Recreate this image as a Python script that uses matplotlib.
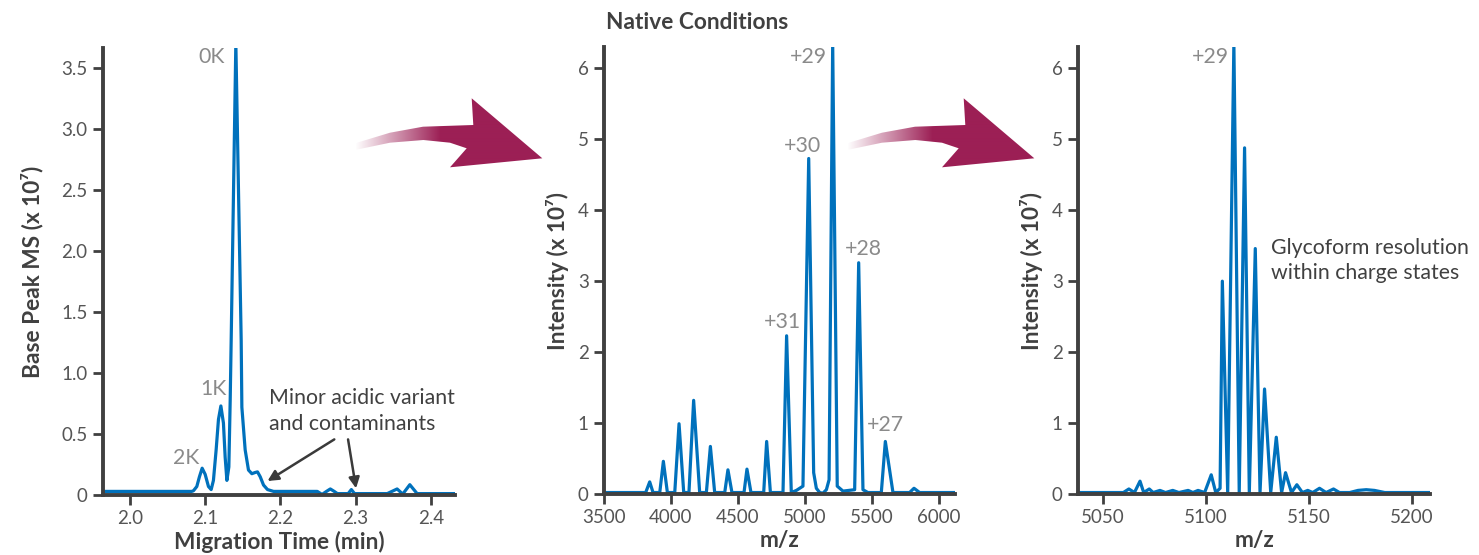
import numpy as np
import matplotlib
matplotlib.use('Agg')
import matplotlib.pyplot as plt
from matplotlib.patches import Polygon

plt.rcParams['font.family'] = ['Lato', 'DejaVu Sans']

# electropherogram (base peak, x 10^7)
mig_time = [1.964, 2.082, 2.0843, 2.0888, 2.0923, 2.0959, 2.0999, 2.1043, 2.1079,
            2.1109, 2.1145, 2.1176, 2.1208, 2.1242, 2.1265, 2.1288, 2.1314, 2.1332,
            2.1345, 2.1407, 2.1478, 2.1487, 2.1531, 2.1575, 2.162, 2.1664, 2.1695,
            2.1731, 2.1775, 2.1828, 2.1908, 2.249, 2.2553, 2.2612, 2.2663, 2.2715,
            2.2757, 2.29, 2.2943, 2.2985, 2.342, 2.3551, 2.3626, 2.372, 2.3817, 2.432]
base_peak = [0.03, 0.03, 0.035, 0.07, 0.15, 0.22, 0.17, 0.07, 0.045,
             0.12, 0.37, 0.62, 0.73, 0.59, 0.31, 0.12, 0.23, 0.78,
             1.27, 3.7, 1.27, 0.72, 0.37, 0.205, 0.175, 0.185, 0.19,
             0.15, 0.082, 0.045, 0.03, 0.03, 0.005, 0.03, 0.05, 0.03,
             0.012, 0.012, 0.045, 0.012, 0.012, 0.05, 0.008, 0.085, 0.012, 0.012]

# native MS spectrum
mz_full = [3500, 3811, 3841, 3866, 3916, 3943, 3973, 4028, 4060, 4095, 4134, 4169,
           4214, 4264, 4294, 4326, 4401, 4425, 4455, 4545, 4567, 4597, 4692, 4714,
           4742, 4836, 4863, 4898, 4936, 4985, 5028, 5065, 5085, 5110, 5134, 5160,
           5180, 5207, 5241, 5284, 5371, 5401, 5433, 5470, 5570, 5600, 5657, 5781,
           5814, 5856, 6120]
int_full = [0.02, 0.02, 0.17, 0.02, 0.02, 0.46, 0.02, 0.02, 0.99, 0.02, 0.02, 1.32,
            0.02, 0.02, 0.67, 0.02, 0.02, 0.34, 0.02, 0.02, 0.35, 0.02, 0.02, 0.74,
            0.02, 0.02, 2.23, 0.02, 0.05, 0.11, 4.73, 0.3, 0.08, 0.02, 0.01, 0.06,
            0.2, 6.35, 0.11, 0.04, 0.06, 3.26, 0.06, 0.02, 0.02, 0.74, 0.02, 0.02,
            0.08, 0.02, 0.02]

# zoom on the +29 charge state
mz_zoom = [5038, 5060.0, 5062.7, 5065.4, 5068.1, 5069.9, 5072.6, 5074.5, 5077.8,
           5080.5, 5084.0, 5087.0, 5091.5, 5093.8, 5096.3, 5099.5, 5102.7, 5104.9,
           5107.0, 5108.1, 5110.7, 5113.7, 5116.3, 5118.9, 5121.2, 5124.1, 5126.4,
           5128.6, 5131.6, 5134.3, 5136.9, 5138.8, 5141.7, 5144.3, 5147.0, 5149.6,
           5152.0, 5155.3, 5158.5, 5162.1, 5165.0, 5170.0, 5174.0, 5178.0, 5182.0,
           5187.0, 5209]
int_zoom = [0.02, 0.02, 0.07, 0.02, 0.18, 0.02, 0.07, 0.02, 0.05,
            0.02, 0.05, 0.02, 0.05, 0.02, 0.05, 0.02, 0.27, 0.02,
            0.08, 3.0, 0.02, 6.35, 0.02, 4.88, 0.02, 3.46, 0.02,
            1.48, 0.02, 0.80, 0.02, 0.30, 0.02, 0.13, 0.02, 0.05,
            0.02, 0.08, 0.02, 0.07, 0.02, 0.02, 0.05, 0.06, 0.05,
            0.02, 0.02]

peak_names = ['0K', '1K', '2K']
peak_label_pos = [(2.109, 3.59), (2.1105, 0.87), (2.0752, 0.30)]
charge_names = ['+29', '+30', '+31', '+28', '+27']
charge_label_pos = [(5028, 6.155), (4979, 4.91), (4832, 2.43), (5437, 3.46), (5601, 0.975)]

blue = '#0071bc'
dark = '#404040'
grey_lbl = '#8a8a8a'
maroon = '#9c1f55'

fig = plt.figure(figsize=(14.79, 5.55), dpi=100)

ax1 = fig.add_axes([0.0696, 0.108, 0.238, 0.805])
ax2 = fig.add_axes([0.4084, 0.110, 0.2373, 0.805])
ax3 = fig.add_axes([0.7289, 0.110, 0.238, 0.805])


def style(ax):
    for s in ['top', 'right']:
        ax.spines[s].set_visible(False)
    for s in ['left', 'bottom']:
        ax.spines[s].set_color(dark)
        ax.spines[s].set_linewidth(2.8)
    ax.tick_params(direction='out', length=7, width=2, color=dark,
                   labelsize=13.5, labelcolor='#555555', pad=4)


lab_kw = dict(fontsize=16.3, fontweight='bold', color=dark)
ann_kw = dict(fontsize=15.3, color=grey_lbl, ha='center', va='center')
note_kw = dict(fontsize=15.3, color=dark, ha='left', va='center', linespacing=1.35)
line_kw = dict(color=blue, lw=2.3, solid_joinstyle='round')

ax1.plot(mig_time, base_peak, **line_kw)
ax1.set_xlim(1.964, 2.432)
ax1.set_ylim(0, 3.66)
ax1.set_xticks([2.0, 2.1, 2.2, 2.3, 2.4])
ax1.set_yticks([0, 0.5, 1.0, 1.5, 2.0, 2.5, 3.0, 3.5])
ax1.set_yticklabels(['0', '0.5', '1.0', '1.5', '2.0', '2.5', '3.0', '3.5'])
style(ax1)
ax1.set_xlabel('Migration Time (min)', **lab_kw)
ax1.set_ylabel('Base Peak MS (x 10⁷)', **lab_kw)
ax1.xaxis.set_label_coords(0.5, -0.08)
ax1.yaxis.set_label_coords(-0.17, 0.5)
for name, (x, y) in zip(peak_names, peak_label_pos):
    ax1.text(x, y, name, **ann_kw)
ax1.text(2.1842, 0.69, 'Minor acidic variant\nand contaminants', **note_kw)
arr = dict(arrowstyle='-|>', color='#3a3a3a', lw=1.8, mutation_scale=16,
           shrinkA=0, shrinkB=0)
ax1.annotate('', xy=(2.1828, 0.115), xytext=(2.2716, 0.456), arrowprops=arr)
ax1.annotate('', xy=(2.3005, 0.055), xytext=(2.2899, 0.456), arrowprops=arr)

ax2.plot(mz_full, int_full, **line_kw)
ax2.set_xlim(3500, 6120)
ax2.set_ylim(0, 6.3)
ax2.set_xticks([3500, 4000, 4500, 5000, 5500, 6000])
ax2.set_yticks(range(7))
style(ax2)
ax2.set_xlabel('m/z', **lab_kw)
ax2.set_ylabel('Intensity (x 10⁷)', **lab_kw)
ax2.xaxis.set_label_coords(0.5, -0.08)
ax2.yaxis.set_label_coords(-0.1, 0.5)
for name, (x, y) in zip(charge_names, charge_label_pos):
    ax2.text(x, y, name, **ann_kw)

ax3.plot(mz_zoom, int_zoom, **line_kw)
ax3.set_xlim(5038, 5209)
ax3.set_ylim(0, 6.3)
ax3.set_xticks([5050, 5100, 5150, 5200])
ax3.set_yticks(range(7))
style(ax3)
ax3.set_xlabel('m/z', **lab_kw)
ax3.set_ylabel('Intensity (x 10⁷)', **lab_kw)
ax3.xaxis.set_label_coords(0.5, -0.08)
ax3.yaxis.set_label_coords(-0.1, 0.5)
ax3.text(5102.2, 6.155, '+29', **ann_kw)
ax3.text(5131.5, 3.29, 'Glycoform resolution\nwithin charge states', **note_kw)

fig.text(0.4713, 0.96, 'Native Conditions', fontsize=16.3, fontweight='bold',
         color=dark, ha='center', va='center')

# curved arrows between panels, drawn in pixel space on top
over = fig.add_axes([0, 0, 1, 1], zorder=5)
over.axis('off')

top_edge = [(355, 143.3), (390, 132.7), (423, 126.7), (473.3, 125)]
head = [(471.7, 98.3), (542.3, 158.3), (450, 167.3), (466.7, 148.3)]
bottom_edge = [(450, 142.7), (423.3, 140), (390, 142.7), (355, 150)]
shape = top_edge + head + bottom_edge

rgb = matplotlib.colors.to_rgb(maroon)
for dx in [0, 492]:
    pts = [(x + dx, y) for x, y in shape]
    poly = Polygon(pts, closed=True, facecolor='none', edgecolor='none')
    over.add_patch(poly)
    cols = np.arange(200)
    grad = np.zeros((2, 200, 4))
    grad[..., 0], grad[..., 1], grad[..., 2] = rgb
    grad[..., 3] = np.clip((cols - 3) / 85.0, 0, 1)
    im = over.imshow(grad, extent=(352 + dx, 552 + dx, 170, 95), aspect='auto',
                     interpolation='bilinear')
    im.set_clip_path(poly)

over.set_xlim(0, 1479)
over.set_ylim(555, 0)

fig.savefig('out.png', dpi=100)
